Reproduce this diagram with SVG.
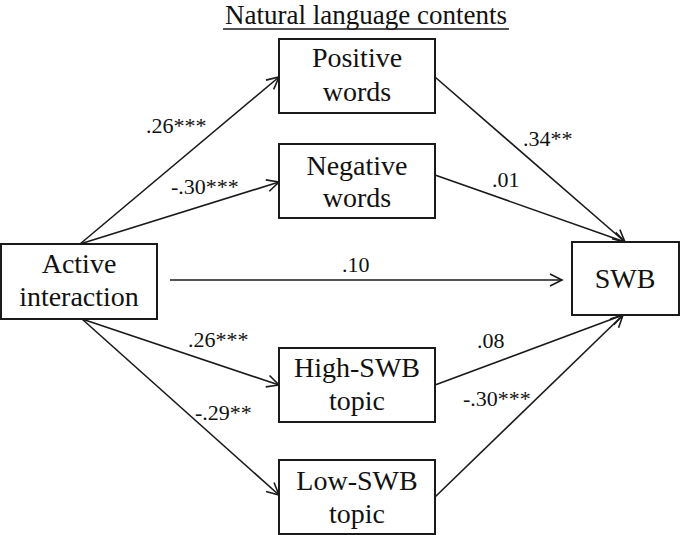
<svg xmlns="http://www.w3.org/2000/svg" width="680" height="535" viewBox="0 0 680 535">
  <defs>
    <style>
      .box { fill: #ffffff; stroke: #1a1a1a; stroke-width: 2; }
      .node { font-family: "Liberation Serif", "Times New Roman", serif; font-size: 28px; fill: #111111; text-anchor: middle; }
      .lbl { font-family: "Liberation Serif", "Times New Roman", serif; font-size: 22px; fill: #111111; }
      .edge { stroke: #1a1a1a; stroke-width: 1.6; fill: none; marker-end: url(#arr); }
    </style>
    <marker id="arr" markerWidth="16" markerHeight="16" refX="14" refY="8" orient="auto" markerUnits="userSpaceOnUse" viewBox="0 0 16 16">
      <path d="M2,2 L14,8 L2,14" fill="none" stroke="#1a1a1a" stroke-width="1.6"/>
    </marker>
  </defs>
  <rect width="680" height="535" fill="#ffffff"/>

  <g id="title">
    <text class="node" x="366" y="24" style="font-size:27px">Natural language contents</text>
    <line x1="223" y1="29" x2="509" y2="29" stroke="#1a1a1a" stroke-width="1.6"/>
  </g>

  <g id="connectors">
    <line class="edge" x1="80" y1="244" x2="279" y2="77"/>
    <line class="edge" x1="80" y1="244" x2="279" y2="182"/>
    <line class="edge" x1="435" y1="77" x2="625" y2="242"/>
    <line class="edge" x1="435" y1="175" x2="625" y2="242"/>
    <line class="edge" x1="170" y1="280" x2="562" y2="280"/>
    <line class="edge" x1="82" y1="319" x2="279" y2="385"/>
    <line class="edge" x1="82" y1="319" x2="279" y2="495"/>
    <line class="edge" x1="435" y1="385" x2="623" y2="315"/>
    <line class="edge" x1="435" y1="497" x2="623" y2="315"/>
    <text class="lbl" x="146" y="133">.26***</text>
    <text class="lbl" x="171" y="194">-.30***</text>
    <text class="lbl" x="523" y="146">.34**</text>
    <text class="lbl" x="492" y="187">.01</text>
    <text class="lbl" x="342" y="272">.10</text>
    <text class="lbl" x="188" y="347">.26***</text>
    <text class="lbl" x="195" y="420">-.29**</text>
    <text class="lbl" x="477" y="348">.08</text>
    <text class="lbl" x="463" y="406">-.30***</text>
  </g>

  <g id="active">
    <rect class="box" x="1" y="244" width="156" height="75"/>
    <text class="node" x="79" y="273">Active</text>
    <text class="node" x="79" y="306">interaction</text>
  </g>

  <g id="positive">
    <rect class="box" x="279" y="39" width="156" height="74"/>
    <text class="node" x="357" y="67">Positive</text>
    <text class="node" x="357" y="101">words</text>
  </g>

  <g id="negative">
    <rect class="box" x="279" y="144" width="156" height="74"/>
    <text class="node" x="357" y="175">Negative</text>
    <text class="node" x="357" y="207">words</text>
  </g>

  <g id="high">
    <rect class="box" x="279" y="348" width="156" height="74"/>
    <text class="node" x="357" y="377">High-SWB</text>
    <text class="node" x="357" y="410">topic</text>
  </g>

  <g id="low">
    <rect class="box" x="279" y="460" width="156" height="74"/>
    <text class="node" x="357" y="490">Low-SWB</text>
    <text class="node" x="357" y="523">topic</text>
  </g>

  <g id="swb">
    <rect class="box" x="572" y="242" width="107" height="73"/>
    <text class="node" x="625" y="288">SWB</text>
  </g>
</svg>
